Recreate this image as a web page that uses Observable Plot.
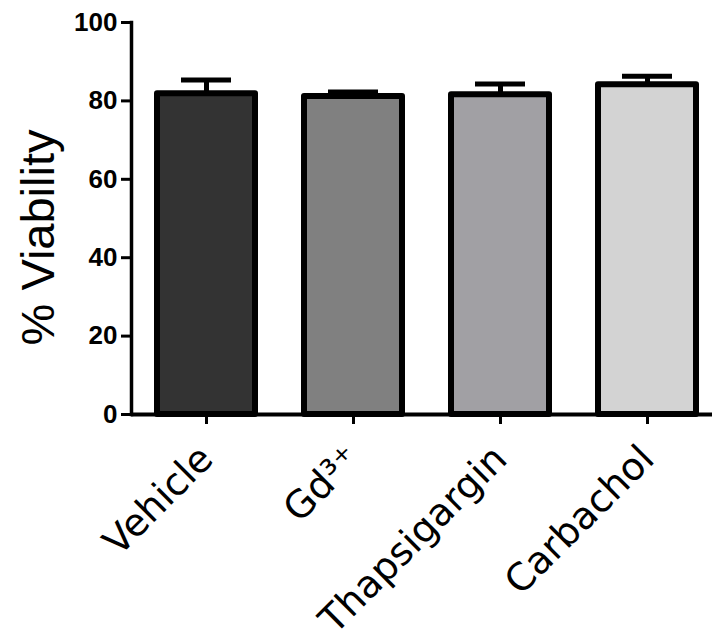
<!DOCTYPE html>
<html><head><meta charset="utf-8">
<script src="https://cdn.jsdelivr.net/npm/d3@7"></script>
<script src="https://cdn.jsdelivr.net/npm/@observablehq/plot@0.6"></script>
<style>html,body{margin:0;padding:0;background:#fff}</style>
</head><body><div id="chart"></div>
<script>
const categories = ["Vehicle", "Gd³⁺", "Thapsigargin", "Carbachol"];
const means = [81.8, 81.1, 81.6, 84.1];
const errors = [3.5, 1.2, 2.7, 2.2];
const fills = ["#333333", "#808080", "#a1a0a4", "#d3d3d3"];
const yTicks = [0, 20, 40, 60, 80, 100];
const yLabel = "% Viability";

const data = categories.map((c, i) => ({category: c, mean: means[i], err: errors[i], fill: fills[i]}));
const labelFont = "'DejaVu Sans', sans-serif";

const chart = Plot.plot({
  width: 712, height: 643,
  marginLeft: 131, marginRight: 0, marginTop: 22, marginBottom: 229,
  style: {background: "#fff", overflow: "visible"},
  x: {domain: categories, paddingInner: 0.335, paddingOuter: 0.14, align: 0.61, label: null},
  y: {domain: [0, 100], label: null},
  color: {type: "identity"},
  marks: [
    Plot.ruleX(data, {x: "category", y1: "mean", y2: d => d.mean + d.err, stroke: "black", strokeWidth: 5}),
    Plot.tickY(data, {x: "category", y: d => d.mean + d.err, stroke: "black", strokeWidth: 5, inset: 24}),
    Plot.barY(data, {x: "category", y: "mean", fill: "fill", stroke: "black", strokeWidth: 6, strokeLinejoin: "round"}),
    Plot.axisY({ticks: yTicks, tickSize: 10, strokeWidth: 3, tickPadding: 4, fontSize: 26, fontWeight: "bold",
      fontFamily: "'Liberation Sans', Arial, sans-serif", fill: "black", label: null}),
    Plot.axisX({tickSize: 10, strokeWidth: 3, tickRotate: -45, tickPadding: 28, fontSize: 38,
      fontFamily: labelFont, fill: "black", label: null}),
    Plot.frame({anchor: "left", stroke: "black", strokeWidth: 3.5}),
    Plot.ruleY([0], {stroke: "black", strokeWidth: 4}),
    Plot.text([yLabel], {text: d => d, frameAnchor: "left", textAnchor: "middle", rotate: -90, dx: -93, dy: 19,
      fontSize: 47, fontFamily: "'Liberation Sans', Arial, sans-serif", fill: "black"})
  ]
});
document.getElementById("chart").appendChild(chart);
</script>
</body></html>
